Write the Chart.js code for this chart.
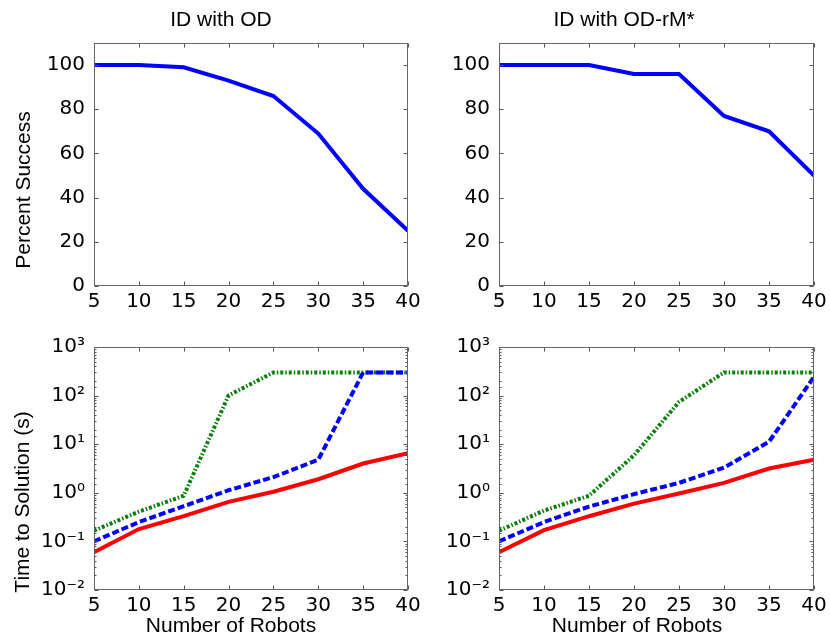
<!DOCTYPE html>
<html>
<head>
<meta charset="utf-8">
<script src="https://cdn.jsdelivr.net/npm/chart.js@4.4.1/dist/chart.umd.min.js"></script>
<style>
  body { margin: 0; background: #fff; }
  #wrap { position: relative; width: 830px; height: 639px; overflow: hidden; }
  canvas { position: absolute; }
</style>
</head>
<body>
<div id="wrap">
  <canvas id="tl" width="430" height="320" style="left:0;top:0"></canvas>
  <canvas id="tr" width="425" height="320" style="left:405px;top:0"></canvas>
  <canvas id="bl" width="430" height="319" style="left:0;top:320px"></canvas>
  <canvas id="br" width="425" height="319" style="left:405px;top:320px"></canvas>
</div>
<script>
var robots = [5, 10, 15, 20, 25, 30, 35, 40];

// percent success
var successOD = [100, 100, 99, 93, 86, 69, 44, 25];
var successODrM = [100, 100, 100, 96, 96, 77, 70, 50];

// time to solution (s), ID with OD
var redOD = [0.06, 0.18, 0.33, 0.65, 1.05, 1.9, 4.0, 6.5];
var blueOD = [0.10, 0.25, 0.53, 1.13, 2.1, 4.8, 300, 300];
var greenOD = [0.166, 0.41, 0.87, 101, 300, 300, 300, 300];

// time to solution (s), ID with OD-rM*
var redRM = [0.06, 0.17, 0.33, 0.60, 0.97, 1.6, 3.16, 4.8];
var blueRM = [0.10, 0.25, 0.52, 0.94, 1.6, 3.3, 11.2, 242];
var greenRM = [0.166, 0.43, 0.87, 5.9, 74, 300, 300, 300];

var percentTicks = [0, 20, 40, 60, 80, 100];
var logTickLabels = {'-2': '10\u207B\u00B2', '-1': '10\u207B\u00B9', '0': '10\u2070', '1': '10\u00B9', '2': '10\u00B2', '3': '10\u00B3'};

var titles = ['ID with OD', 'ID with OD-rM*'];
var yTitles = ['Percent Success', 'Time to Solution (s)'];
var xTitle = 'Number of Robots';

Chart.defaults.font.family = 'DejaVu Sans';
Chart.defaults.font.size = 20;
Chart.defaults.color = '#000';

function isPow10(v) {
  var l = Math.log10(v);
  return Math.abs(l - Math.round(l)) < 1e-9;
}

var frameTicks = {
  id: 'frameTicks',
  afterDatasetsDraw: function(chart) {
    var ctx = chart.ctx, a = chart.chartArea, x = chart.scales.x, y = chart.scales.y;
    var L = Math.round(a.left) + 0.5, R = Math.round(a.right) - 0.5;
    var T = Math.round(a.top) + 0.5, B = Math.round(a.bottom) - 0.5;
    ctx.save();
    ctx.strokeStyle = '#555';
    ctx.lineWidth = 1;
    ctx.beginPath();
    x.ticks.forEach(function(t) {
      var px = Math.round(x.getPixelForValue(t.value)) + 0.5;
      ctx.moveTo(px, B); ctx.lineTo(px, B - 4);
      ctx.moveTo(px, T); ctx.lineTo(px, T + 4);
    });
    y.ticks.forEach(function(t) {
      var len = (y.type === 'logarithmic' && !isPow10(t.value)) ? 2 : 4;
      var py = Math.round(y.getPixelForValue(t.value)) + 0.5;
      ctx.moveTo(L, py); ctx.lineTo(L + len, py);
      ctx.moveTo(R, py); ctx.lineTo(R - len, py);
    });
    ctx.stroke();
    ctx.strokeStyle = '#666';
    ctx.strokeRect(L, T, R - L, B - T);
    ctx.restore();
  }
};

function textPlugin(items) {
  return {
    id: 'texts',
    afterDraw: function(chart) {
      var ctx = chart.ctx;
      ctx.save();
      ctx.fillStyle = '#000';
      ctx.font = '21px "Liberation Sans", Arial, sans-serif';
      ctx.textAlign = 'center';
      ctx.textBaseline = 'alphabetic';
      items.forEach(function(it) {
        ctx.save();
        ctx.translate(it.x, it.y);
        if (it.rot) ctx.rotate(-Math.PI / 2);
        ctx.fillText(it.text, 0, 0);
        ctx.restore();
      });
      ctx.restore();
    }
  };
}

function line(data, color, dash) {
  return {
    data: data,
    borderColor: color,
    backgroundColor: color,
    borderWidth: 4,
    borderDash: dash || [],
    pointRadius: 0,
    tension: 0,
    fill: false
  };
}

function makePanel(id, w, h, area, yScale, datasets, texts) {
  var xH = 30;
  new Chart(document.getElementById(id), {
    type: 'line',
    data: { labels: robots, datasets: datasets },
    options: {
      responsive: false,
      animation: false,
      devicePixelRatio: 1,
      layout: { padding: { left: 0, top: area.top, right: w - area.right, bottom: h - area.bottom - xH } },
      plugins: { legend: { display: false }, tooltip: { enabled: false } },
      scales: {
        x: {
          type: 'linear',
          min: 5, max: 40,
          grid: { display: false },
          border: { display: false },
          ticks: { stepSize: 5, padding: -4, maxRotation: 0, autoSkip: false },
          afterFit: function(s) { s.height = xH; s.paddingLeft = 0; s.paddingRight = 0; }
        },
        y: Object.assign({
          grid: { display: false },
          border: { display: false },
          afterFit: function(s) { s.width = area.left; s.paddingTop = 0; s.paddingBottom = 0; }
        }, yScale)
      }
    },
    plugins: [frameTicks, textPlugin(texts)]
  });
}

var percentScale = {
  type: 'linear', min: 0, max: 110,
  afterBuildTicks: function(s) { s.ticks = percentTicks.map(function(v) { return {value: v}; }); },
  ticks: { padding: 1, autoSkip: false }
};
var logScale = {
  type: 'logarithmic', min: 0.01, max: 1000,
  ticks: {
    padding: 1, autoSkip: false,
    callback: function(v) {
      return isPow10(v) ? logTickLabels[String(Math.round(Math.log10(v)))] : '';
    }
  }
};

makePanel('tl', 430, 320, {left: 94, top: 43, right: 408, bottom: 286}, percentScale,
  [line(successOD, '#0000ff')],
  [{text: titles[0], x: 221, y: 26}, {text: yTitles[0], x: 30, y: 190, rot: true}]);

makePanel('tr', 425, 320, {left: 94, top: 43, right: 409, bottom: 286}, percentScale,
  [line(successODrM, '#0000ff')],
  [{text: titles[1], x: 624 - 405, y: 26}]);

makePanel('bl', 430, 319, {left: 94, top: 27, right: 408, bottom: 270}, logScale,
  [line(redOD, '#ff0000'), line(blueOD, '#0000ff', [7, 3]), line(greenOD, '#008000', [3, 2, 1.5, 2])],
  [{text: yTitles[1], x: 29, y: 502 - 320, rot: true}, {text: xTitle, x: 231, y: 632 - 320}]);

makePanel('br', 425, 319, {left: 94, top: 27, right: 409, bottom: 270}, logScale,
  [line(redRM, '#ff0000'), line(blueRM, '#0000ff', [7, 3]), line(greenRM, '#008000', [3, 2, 1.5, 2])],
  [{text: xTitle, x: 637 - 405, y: 632 - 320}]);
</script>
</body>
</html>
